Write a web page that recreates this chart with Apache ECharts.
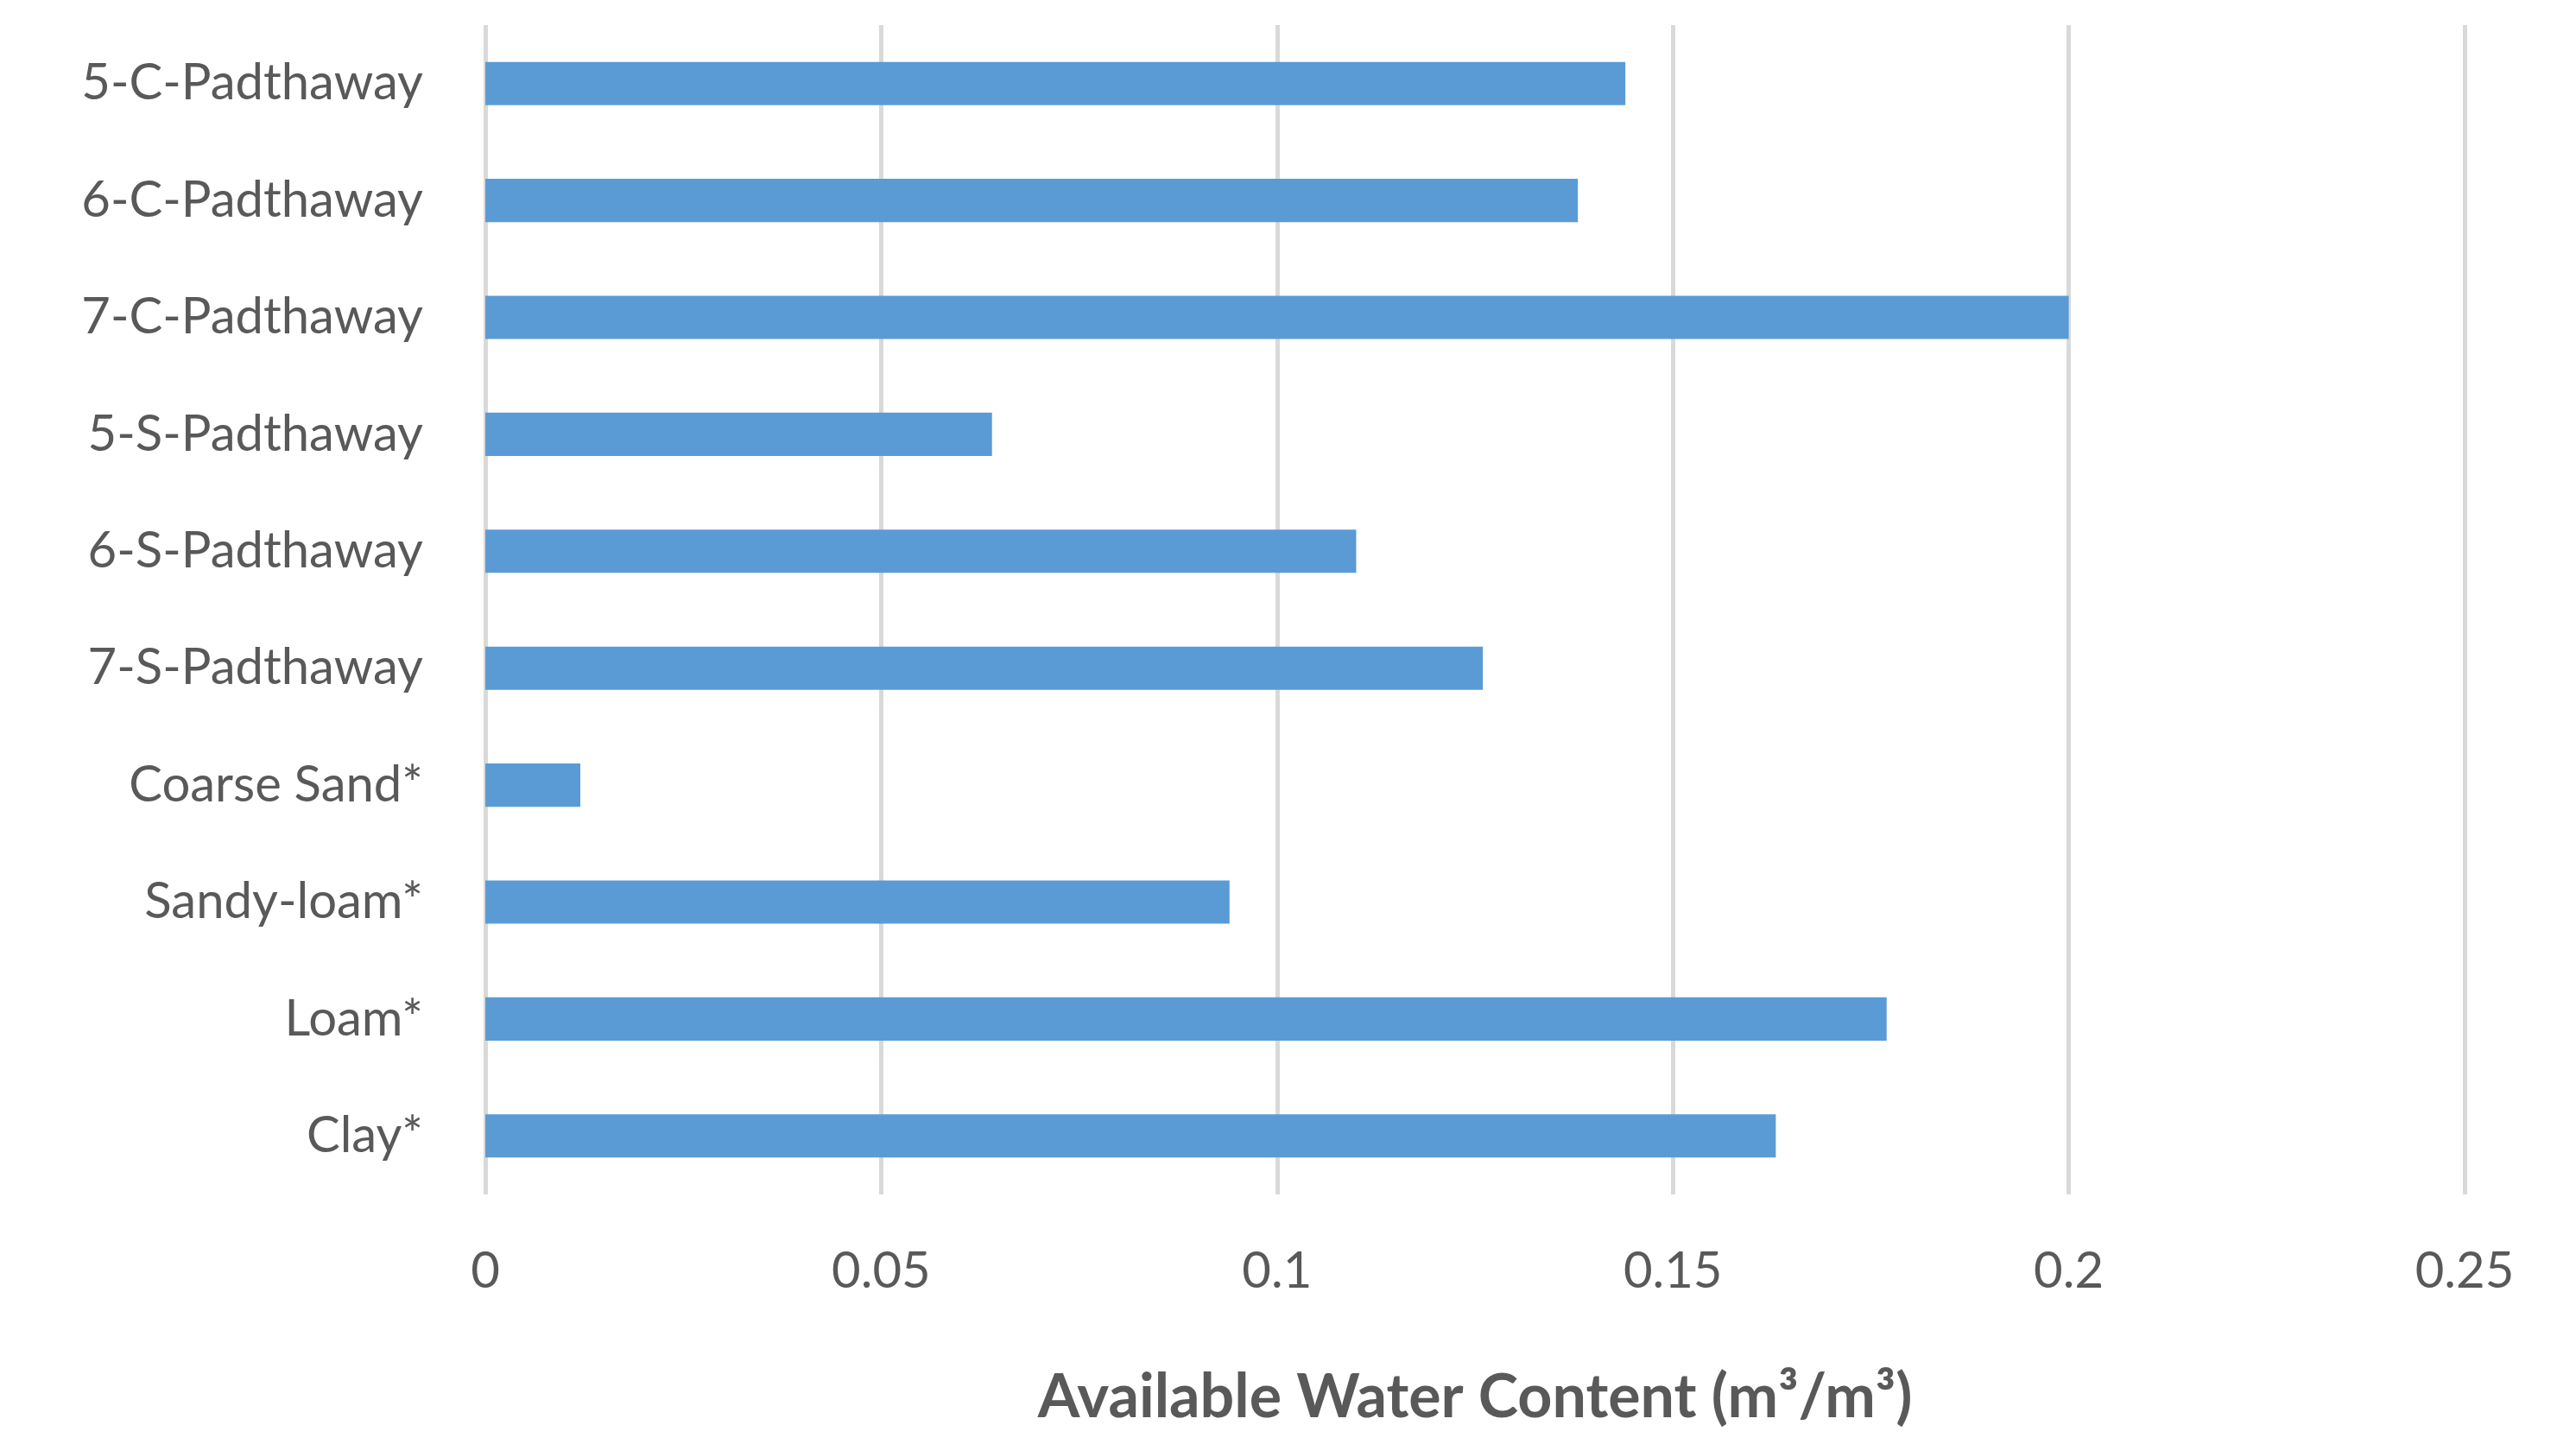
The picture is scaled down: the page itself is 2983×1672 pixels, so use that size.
<!DOCTYPE html>
<html>
<head>
<meta charset="utf-8">
<script src="https://cdn.jsdelivr.net/npm/echarts@6/dist/echarts.min.js"></script>
<style>html,body{margin:0;background:#fff}#chart{width:2983px;height:1672px}</style>
</head>
<body>
<div id="chart"></div>
<script>
// top to bottom as drawn
const categories = ['5-C-Padthaway', '6-C-Padthaway', '7-C-Padthaway', '5-S-Padthaway', '6-S-Padthaway',
  '7-S-Padthaway', 'Coarse Sand*', 'Sandy-loam*', 'Loam*', 'Clay*'];
const awc = [0.144, 0.138, 0.200, 0.064, 0.110, 0.126, 0.012, 0.094, 0.177, 0.163];
const xTicks = [0, 0.05, 0.1, 0.15, 0.2, 0.25];

const chart = echarts.init(document.getElementById('chart'));
chart.setOption({
  animation: false,
  textStyle: { fontFamily: 'Lato' },
  grid: { left: 562, right: 129, top: 29, bottom: 289 },
  xAxis: {
    type: 'value', min: 0, max: 0.25, interval: 0.05,
    axisLabel: { color: '#595959', fontSize: 58, margin: 60,
      formatter: v => xTicks.includes(+v.toFixed(2)) ? String(+v.toFixed(2)) : '' },
    axisLine: { show: false }, axisTick: { show: false },
    splitLine: { lineStyle: { color: '#d9d9d9', width: 5 } },
    name: 'Available Water Content (m³/m³)', nameLocation: 'middle', nameGap: 200,
    nameTextStyle: { color: '#595959', fontSize: 70, fontWeight: 'bold' }
  },
  yAxis: {
    type: 'category', data: categories, inverse: true,
    axisLabel: { color: '#595959', fontSize: 58, margin: 72 },
    axisLine: { show: false }, axisTick: { show: false }
  },
  series: [{
    type: 'bar', data: awc, barWidth: '37%',
    itemStyle: { color: '#5b9bd5' }
  }]
});
</script>
</body>
</html>
